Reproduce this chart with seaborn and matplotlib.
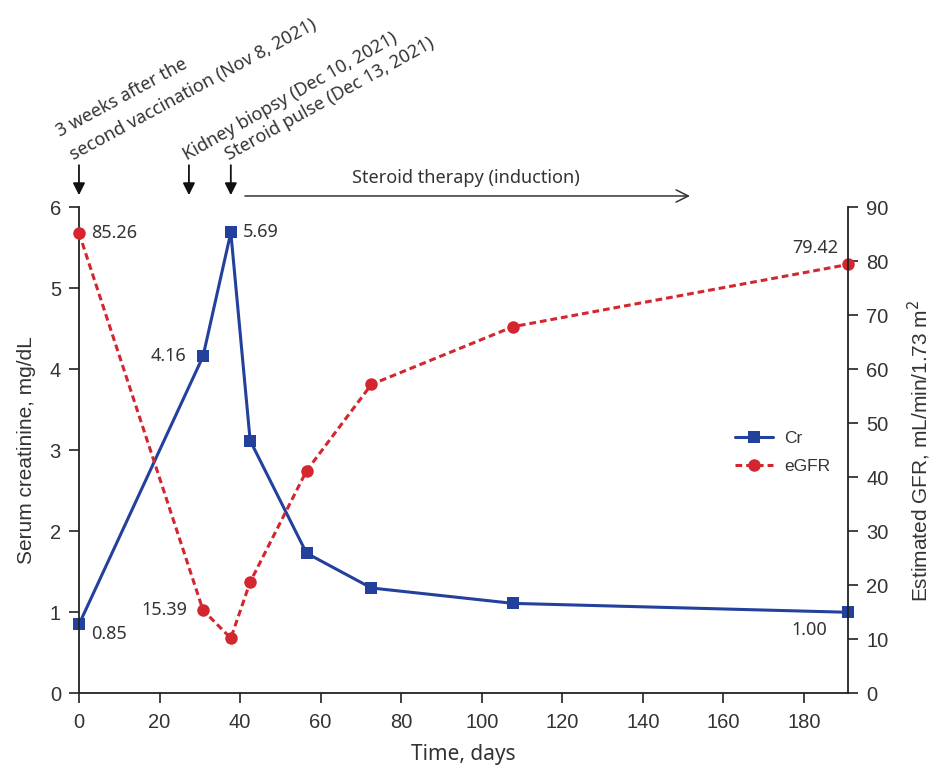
import numpy as np
import pandas as pd
import matplotlib
matplotlib.use('Agg')
import matplotlib.pyplot as plt
import seaborn as sns

# values
days = [0, 30.8, 37.7, 42.5, 56.5, 72.6, 107.8, 191]
creatinine = [0.85, 4.16, 5.69, 3.12, 1.73, 1.30, 1.11, 1.00]
egfr = [85.26, 15.39, 10.2, 20.6, 41.2, 57.2, 67.9, 79.42]

cr_labels = {0: '0.85', 1: '4.16', 2: '5.69', 7: '1.00'}
egfr_labels = {0: '85.26', 1: '15.39', 7: '79.42'}

events = [
    (0, '3 weeks after the', 'second vaccination (Nov 8, 2021)'),
    (27.3, None, 'Kidney biopsy (Dec 10, 2021)'),
    (37.7, None, 'Steroid pulse (Dec 13, 2021)'),
]
therapy_start, therapy_end = 41.2, 151.7

blue = '#22409C'
red = '#D3262F'
ink = '#333333'
label_font = ['Noto Sans', 'DejaVu Sans']
tick_font = ['Liberation Sans', 'DejaVu Sans']

sns.set_style('ticks')
plt.rcParams['font.family'] = tick_font
plt.rcParams['axes.edgecolor'] = '#222222'
plt.rcParams['xtick.color'] = '#222222'
plt.rcParams['ytick.color'] = '#222222'

df = pd.DataFrame({'day': days, 'Cr': creatinine, 'eGFR': egfr})

fig = plt.figure(figsize=(9.39, 7.71), dpi=100)
ax = fig.add_axes([0.0841, 0.1008, 0.8193, 0.6303])
ax2 = ax.twinx()

sns.lineplot(data=df, x='day', y='Cr', ax=ax, color=blue, marker='s', markersize=9,
             markeredgewidth=0, linewidth=2.2, label='Cr', legend=False, clip_on=False)
sns.lineplot(data=df, x='day', y='eGFR', ax=ax2, color=red, marker='o', markersize=9,
             markeredgewidth=0, linewidth=2.2, linestyle=(0, (2.2, 1.3)), label='eGFR',
             legend=False, clip_on=False)

ax.set_xlim(0, 191)
ax.set_ylim(0, 6)
ax2.set_ylim(0, 90)
ax.set_xticks(np.arange(0, 181, 20))
ax.set_yticks(np.arange(0, 7, 1))
ax2.set_yticks(np.arange(0, 91, 10))

for a in (ax, ax2):
    a.spines['top'].set_visible(False)
    for s in a.spines.values():
        s.set_linewidth(1.3)
    a.tick_params(direction='out', length=7, width=1.2, labelsize=14.5, labelcolor=ink, pad=6)
ax.tick_params(axis='x', pad=7)
ax.spines['right'].set_visible(False)
ax2.spines['left'].set_visible(False)
ax2.spines['bottom'].set_visible(False)

ax.set_xlabel('Time, days', fontsize=15, color=ink, family=label_font, labelpad=9)
ax.set_ylabel('Serum creatinine, mg/dL', fontsize=15, color=ink, labelpad=10)
ax2.set_ylabel('Estimated GFR, mL/min/1.73 m$^2$', fontsize=15, color=ink, labelpad=12)

# point labels (offsets in pixels)
cr_off = {0: (12, -10, 'left'), 1: (-17, 0, 'right'), 2: (12, 0, 'left'), 7: (-39, -18, 'center')}
for i, txt in cr_labels.items():
    dx, dy, ha = cr_off[i]
    ax.annotate(txt, (days[i], creatinine[i]), xytext=(dx, dy), textcoords='offset pixels',
                ha=ha, va='center', fontsize=13, color=ink, family=label_font, annotation_clip=False)
egfr_off = {0: (12, 0, 'left'), 1: (-16, 0, 'right'), 7: (-33, 16, 'center')}
for i, txt in egfr_labels.items():
    dx, dy, ha = egfr_off[i]
    ax2.annotate(txt, (days[i], egfr[i]), xytext=(dx, dy), textcoords='offset pixels',
                 ha=ha, va='center', fontsize=13, color=ink, family=label_font, annotation_clip=False)

# event arrows and rotated captions
for x, line1, line2 in events:
    ax.annotate('', xy=(x, 6.15), xytext=(x, 6.52), annotation_clip=False,
                arrowprops=dict(arrowstyle='-|>', color='#111111', lw=1.3, mutation_scale=18,
                                shrinkA=0, shrinkB=0))
ax.text(-4.7, 6.87, events[0][1], rotation=28.5, rotation_mode='anchor', ha='left', va='baseline',
        fontsize=13, color=ink, family=label_font, clip_on=False)
ax.text(-1.4, 6.58, events[0][2], rotation=28.5, rotation_mode='anchor', ha='left', va='baseline',
        fontsize=13, color=ink, family=label_font, clip_on=False)
ax.text(26.8, 6.58, events[1][2], rotation=29.5, rotation_mode='anchor', ha='left', va='baseline',
        fontsize=13, color=ink, family=label_font, clip_on=False)
ax.text(37.2, 6.58, events[2][2], rotation=29, rotation_mode='anchor', ha='left', va='baseline',
        fontsize=13, color=ink, family=label_font, clip_on=False)

ax.annotate('', xy=(therapy_end, 6.14), xytext=(therapy_start, 6.14), annotation_clip=False,
            arrowprops=dict(arrowstyle='->', color='#333333', lw=1.1, mutation_scale=22,
                            shrinkA=0, shrinkB=0))
ax.text(96.1, 6.36, 'Steroid therapy (induction)', ha='center', va='center', fontsize=13,
        color=ink, family=label_font, clip_on=False)

handles = ax.get_lines()[:1] + ax2.get_lines()[:1]
ax2.legend(handles, ['Cr', 'eGFR'], loc='center left', bbox_to_anchor=(0.853, 0.496),
           frameon=False, fontsize=12.5, handlelength=2.2, labelspacing=0.75,
           borderpad=0, borderaxespad=0, handletextpad=0.6, labelcolor=ink)

fig.savefig('out.png', dpi=100)
